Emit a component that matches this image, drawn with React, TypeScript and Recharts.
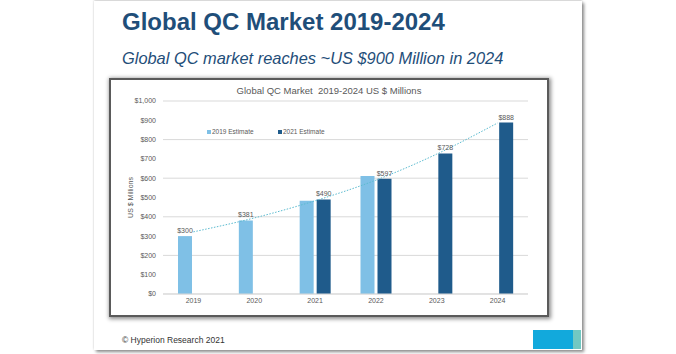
import { ComposedChart, Bar, Line, XAxis, YAxis, CartesianGrid, LabelList } from 'recharts';

const years = ['2019', '2020', '2021', '2022', '2023', '2024'];
const estimate2019 = [300, 381, 483, 612, null, null];
const estimate2021 = [null, null, 490, 597, 728, 888];
const trend2019 = [322, 394, 483, 590, 725, 886];
const labels2019 = ['$300', '$381', '', '', '', ''];
const labels2021 = ['', '', '$490', '$597', '$728', '$888'];
const yTicks = [0, 100, 200, 300, 400, 500, 600, 700, 800, 900, 1000];

const LIGHT = '#7fc0e6';
const DARK = '#1f5b8b';
const TREND = '#5bbbd0';
const TEXT = '#595959';
const FONT = '"Liberation Sans", Arial, sans-serif';

const data = years.map((year, i) => ({
  year,
  e2019: estimate2019[i],
  e2021: estimate2021[i],
  trend: trend2019[i],
  l2019: labels2019[i],
  l2021: labels2021[i],
}));

const money = (v: number) => (v >= 1000 ? `$${v.toLocaleString('en-US')}` : `$${v}`);

const App = () => {
  return (
    <div style={{ position: 'absolute', left: 0, top: 0, width: 676, height: 354, background: '#fff', overflow: 'hidden', fontFamily: FONT }}>
      {/* slide */}
      <div style={{ position: 'absolute', left: 94, top: 1, width: 488, height: 349, background: '#fff', boxShadow: '2px 2px 3px #8a8a8a, 0 -1px 2px #cfcfcf' }} />
      <div style={{ position: 'absolute', left: 122, top: 8, fontSize: 24, lineHeight: '28px', fontWeight: 'bold', color: '#1f4e79' }}>
        Global QC Market 2019-2024
      </div>
      <div style={{ position: 'absolute', left: 122, top: 48, fontSize: 16.4, lineHeight: '20px', fontStyle: 'italic', color: '#1f4e79', whiteSpace: 'nowrap' }}>
        Global QC market reaches ~US $900 Million in 2024
      </div>

      {/* chart box */}
      <div style={{ position: 'absolute', left: 109, top: 78, width: 440, height: 239, boxSizing: 'border-box', border: '2px solid #5a5a5a', background: '#fff', boxShadow: '1px 1px 4px 1px rgba(0,0,0,0.45)' }}>
        <div style={{ position: 'absolute', left: 0, top: 4.7, width: 436, textAlign: 'center', fontSize: 9.5, lineHeight: '12px', color: TEXT, whiteSpace: 'pre' }}>
          {'Global QC Market  2019-2024 US $ Millions'}
        </div>
        <div style={{ position: 'absolute', left: 96, top: 48, display: 'flex', fontSize: 6.5, lineHeight: '8px', color: TEXT, whiteSpace: 'nowrap' }}>
          <span style={{ display: 'flex', alignItems: 'center', width: 71 }}>
            <span style={{ width: 3.5, height: 3.5, background: LIGHT, marginRight: 1.5 }} />2019 Estimate
          </span>
          <span style={{ display: 'flex', alignItems: 'center' }}>
            <span style={{ width: 3.5, height: 3.5, background: DARK, marginRight: 1.5 }} />2021 Estimate
          </span>
        </div>
        <ComposedChart
          width={436}
          height={235}
          data={data}
          margin={{ top: 21, right: 19, bottom: 0, left: 0 }}
          barSize={14}
          barGap={3}
        >
          <CartesianGrid vertical={false} stroke="#d9d9d9" />
          <XAxis
            dataKey="year"
            height={21}
            tickLine={false}
            tickSize={0}
            tickMargin={4}
            axisLine={{ stroke: '#d9d9d9' }}
            tick={{ fontSize: 7, fill: TEXT, fontFamily: FONT }}
          />
          <YAxis
            width={52}
            domain={[0, 1000]}
            ticks={yTicks}
            tickFormatter={money}
            tickLine={false}
            tickSize={0}
            tickMargin={7}
            axisLine={false}
            tick={{ fontSize: 7, fill: TEXT, fontFamily: FONT }}
            label={{ value: 'US $ Millions', angle: -90, position: 'center', dx: -6, fontSize: 7, fill: TEXT, fontFamily: FONT }}
          />
          <Bar dataKey="e2019" fill={LIGHT} isAnimationActive={false}>
            <LabelList dataKey="l2019" position="top" offset={3} style={{ fontSize: 7, fill: TEXT, fontFamily: FONT }} />
          </Bar>
          <Bar dataKey="e2021" fill={DARK} isAnimationActive={false}>
            <LabelList dataKey="l2021" position="top" offset={3} style={{ fontSize: 7, fill: TEXT, fontFamily: FONT }} />
          </Bar>
          <Line
            type="monotone"
            dataKey="trend"
            stroke={TREND}
            strokeWidth={1}
            strokeDasharray="1.5 1.5"
            dot={false}
            activeDot={false}
            isAnimationActive={false}
          />
        </ComposedChart>
      </div>

      {/* footer */}
      <div style={{ position: 'absolute', left: 122, top: 334, fontSize: 8.5, lineHeight: '12px', color: '#333' }}>
        © Hyperion Research 2021
      </div>
      <div style={{ position: 'absolute', left: 533, top: 330, width: 40, height: 19, background: '#12a9dc' }} />
      <div style={{ position: 'absolute', left: 573, top: 330, width: 8, height: 19, background: '#72c8c2' }} />
    </div>
  );
};

export default App;
